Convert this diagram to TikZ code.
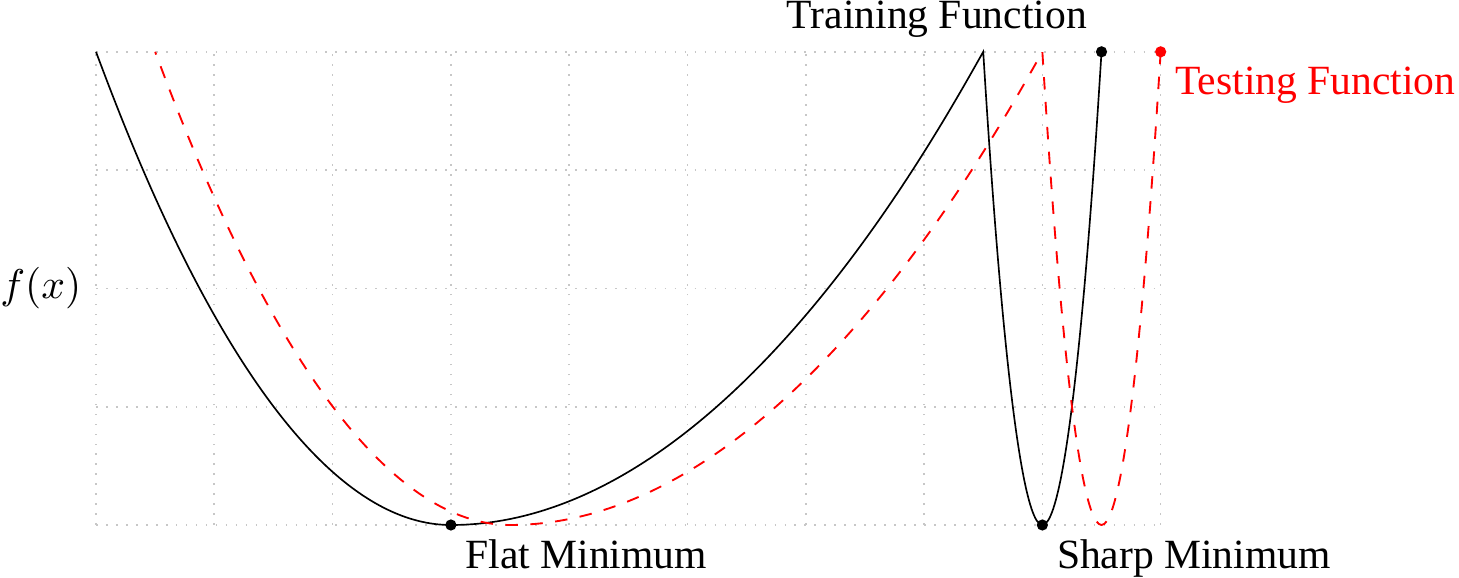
\documentclass[tikz,border=0pt]{standalone}
\usepackage{fontspec}
\setmainfont{Liberation Serif}
\begin{document}
\begin{tikzpicture}[x=1cm,y=1cm,
  dot/.style={circle,fill,inner sep=0pt,minimum size=2.7pt},
  lbl/.style={font=\fontsize{10}{12}\selectfont},
  gridline/.style={black!22,dotted},
  train/.style={black,line width=0.4pt},
  test/.style={red,dashed,line width=0.45pt}]
\useasboundingbox (-0.8115,-0.448) rectangle (11.522,4.438);
\draw[gridline] (0,0) grid (9,4);
\draw[train] (0,4) parabola bend (3,0) (7.5,4) parabola bend (8,0) (8.5,4);
\draw[test] (9,4) parabola bend (8.5,0) (8,4) parabola bend (3.5,0) (0.5,4);
\node[dot] (fm) at (3,0) {};
\node[dot] (sm) at (8,0) {};
\node[dot] (tf) at (8.5,4) {};
\node[dot,red] (ts) at (9,4) {};
\node[lbl,below right] (fmlbl) at (fm.center) {Flat Minimum};
\node[lbl,below right] (smlbl) at (sm.center) {Sharp Minimum};
\node[lbl,above left] (tflbl) at (tf.center) {Training Function};
\node[lbl,below right,red] (tslbl) at (ts.center) {Testing Function};
\node[lbl,left] (fx) at (0,2) {$f(x)$};
\end{tikzpicture}
\end{document}
